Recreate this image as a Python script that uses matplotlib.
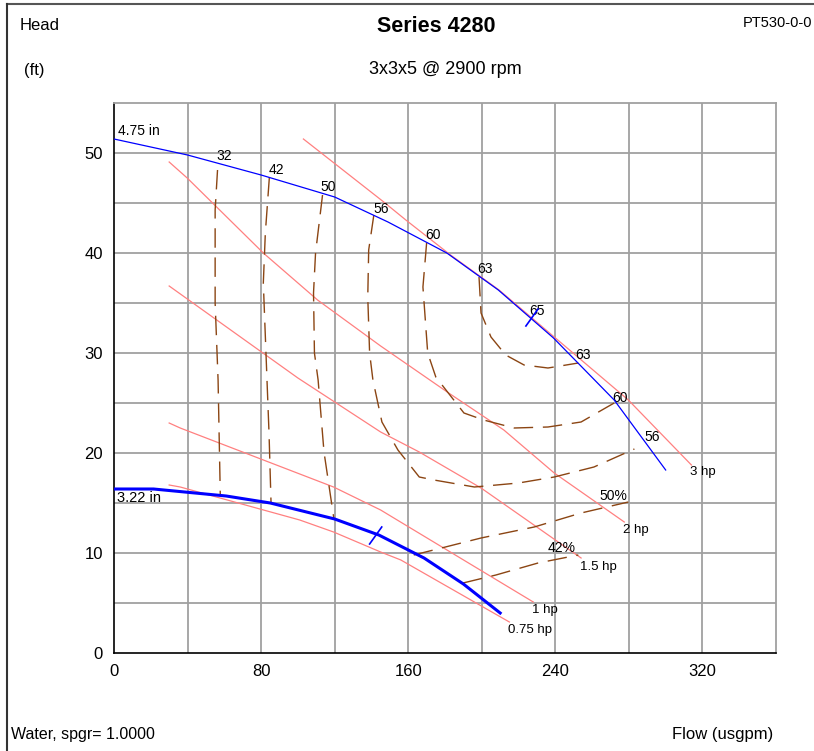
import matplotlib
matplotlib.use('Agg')
import matplotlib.pyplot as plt
from matplotlib.lines import Line2D

plt.rcParams['font.family'] = ['Liberation Sans', 'DejaVu Sans']

# impeller curves (flow usgpm, head ft)
imp_475_flow = [0, 40, 80, 120, 149, 181, 209, 239, 272, 300]
imp_475_head = [51.4, 49.8, 47.8, 45.6, 43.1, 40.0, 36.3, 31.5, 25.3, 18.3]
imp_322_flow = [0, 21.5, 61, 85, 120, 144, 168.6, 190, 210]
imp_322_head = [16.4, 16.4, 15.7, 15.0, 13.4, 11.8, 9.5, 6.9, 4.0]

# best efficiency point ticks
bep_475_flow = [224, 230.6]
bep_475_head = [32.7, 34.4]
bep_322_flow = [139, 145.6]
bep_322_head = [10.9, 12.6]

# power lines
hp_labels = ['3 hp', '2 hp', '1.5 hp', '1 hp', '0.75 hp']
hp_flow = [
    [103, 146.7, 158.7, 183, 209.4, 239.4, 279.7, 314],
    [30, 39.8, 81.2, 110.7, 145, 182, 212, 239.4, 277.5],
    [30, 100, 145, 166, 199.6, 254],
    [30, 36, 119.4, 145, 154, 228],
    [30, 36, 101, 119.4, 145, 156, 215],
]
hp_head = [
    [51.4, 45.1, 43.3, 39.8, 36.3, 31.6, 25.3, 18.8],
    [49.1, 47.5, 40, 35.3, 30.7, 26, 22.3, 18, 13.1],
    [36.7, 27.5, 22.1, 20.1, 16.5, 9.5],
    [23, 22.5, 16.6, 14.3, 13.3, 5.1],
    [16.8, 16.6, 13.3, 12.1, 10.1, 9.3, 3.1],
]
hp_label_pos = [(313.2, 18.1), (276.8, 12.3), (253.4, 8.6), (227.3, 4.3), (214.2, 2.3)]

# efficiency contours
eff_flow = [
    [56.3, 55, 55, 56.6, 57.8],
    [84.5, 82.3, 81.2, 83.2, 84.3, 85.4],
    [113.4, 109.6, 108.5, 109, 111, 114.2, 119.6],
    [141.3, 138.5, 138, 139, 140.8, 145.7, 154.4, 166, 174, 196, 220, 239.4, 261, 283],
    [170, 168, 170.6, 175, 190.3, 201, 217.6, 236, 254, 272],
    [198.5, 199.6, 205, 213, 223, 236, 252.5],
    [163, 199.6, 228.5, 254, 279.7],
    [189.8, 207.7, 230.6, 252.5],
]
eff_head = [
    [48.3, 44.3, 35, 27.3, 15.8],
    [47.6, 42, 37, 27.3, 22, 15],
    [45.8, 40, 36, 30, 27.3, 20.1, 13.4],
    [43.8, 40.3, 35.6, 30, 27.3, 23.1, 20.3, 17.6, 17.3, 16.6, 17.0, 17.6, 18.6, 20.4],
    [41, 36.6, 30, 27.6, 24, 23.3, 22.5, 22.6, 23.1, 25],
    [37.6, 34, 31.6, 29.8, 28.8, 28.5, 29],
    [9.8, 11.5, 12.6, 14, 15.1],
    [7.0, 7.8, 9.0, 9.8],
]
eff_labels = ['32', '42', '50', '56', '60', '63', '65', '63', '60', '56', '50%', '42%']
eff_label_pos = [(59.8, 49.7), (88.6, 48.3), (116.4, 46.6), (145.2, 44.4), (173.5, 41.8),
                 (201.7, 38.4), (230, 34.2), (255, 29.8), (275, 25.5), (292.5, 21.6),
                 (271.3, 15.7), (243.6, 10.5)]

W, H = 814, 751
fig = plt.figure(figsize=(W / 100, H / 100), dpi=100)


def px(x, y):
    return x / W, 1 - y / H


ax = fig.add_axes([114 / W, 1 - 653 / H, (776 - 114) / W, (653 - 103) / H])
ax.set_xlim(0, 360)
ax.set_ylim(0, 55)

grid_c = '#a0a0a0'
for gx in range(40, 360, 40):
    ax.axvline(gx, color=grid_c, lw=1.3, zorder=0)
for gy in range(5, 55, 5):
    ax.axhline(gy, color=grid_c, lw=1.3, zorder=0)

ax.set_xticks([0, 80, 160, 240, 320])
ax.set_yticks([0, 10, 20, 30, 40, 50])
ax.tick_params(length=0, labelsize=12, pad=8)
ax.spines['left'].set_color('black')
ax.spines['bottom'].set_color('black')
ax.spines['left'].set_linewidth(1.2)
ax.spines['bottom'].set_linewidth(1.2)
ax.spines['top'].set_color(grid_c)
ax.spines['right'].set_color(grid_c)
ax.spines['top'].set_linewidth(1.3)
ax.spines['right'].set_linewidth(1.3)

# power lines
for f, h in zip(hp_flow, hp_head):
    ax.plot(f, h, color='#ff8080', lw=0.9, zorder=2)
for lab, (x, y) in zip(hp_labels, hp_label_pos):
    ax.text(x, y, lab, fontsize=9.5, ha='left', va='center')

# efficiency contours
for f, h in zip(eff_flow, eff_head):
    ax.plot(f, h, color='#8b4513', lw=1.0, dashes=(14, 7), zorder=3)
for lab, (x, y) in zip(eff_labels, eff_label_pos):
    ax.text(x, y, lab, fontsize=10, ha='center', va='center')

# impeller curves
ax.plot(imp_475_flow, imp_475_head, color='#0000ff', lw=0.9, zorder=4)
ax.plot(imp_322_flow, imp_322_head, color='#0000ff', lw=2.2, zorder=4)
ax.plot(bep_475_flow, bep_475_head, color='#0000ff', lw=1.2, zorder=4)
ax.plot(bep_322_flow, bep_322_head, color='#0000ff', lw=1.2, zorder=4)
ax.text(2.2, 52.2, '4.75 in', fontsize=10, ha='left', va='center')
ax.text(1.6, 15.5, '3.22 in', fontsize=10.5, ha='left', va='center')

# header and footer texts
fig.text(*px(20, 25), 'Head', fontsize=12, ha='left', va='center')
fig.text(*px(24, 70), '(ft)', fontsize=12, ha='left', va='center')
fig.text(*px(436, 27), 'Series 4280', fontsize=15.5, fontweight='bold', ha='center', va='center')
fig.text(*px(445, 70), '3x3x5 @ 2900 rpm', fontsize=13, ha='center', va='center')
fig.text(*px(812, 23), 'PT530-0-0', fontsize=10.5, ha='right', va='center')
fig.text(*px(11, 734), 'Water, spgr= 1.0000', fontsize=11.5, ha='left', va='center')
fig.text(*px(773, 734), 'Flow (usgpm)', fontsize=12, ha='right', va='center')

# outer frame
fig.add_artist(Line2D([7 / W, 1.01], [1 - 4 / H, 1 - 4 / H], color='#555555', lw=1.5))
fig.add_artist(Line2D([7 / W, 7 / W], [1 - 4 / H, -0.01], color='#333333', lw=1.5))

fig.savefig('out.png', dpi=100)
